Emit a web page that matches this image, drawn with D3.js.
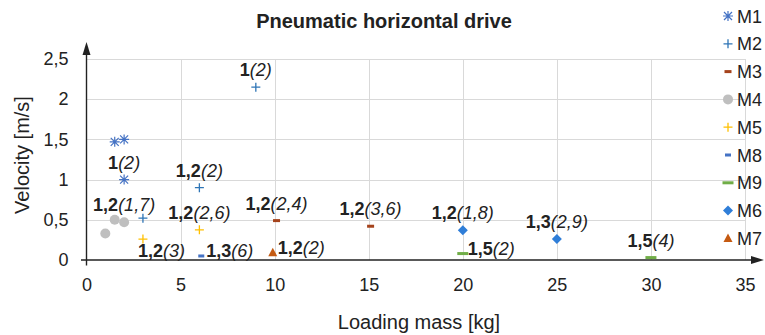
<!DOCTYPE html>
<html lang="en">
<head>
    <meta charset="UTF-8">
    <title>Pneumatic horizontal drive</title>
    <script src="https://d3js.org/d3.v7.min.js"></script>
    <style>
        body{margin: 0; background: #fff;}
        text{font-family: 'Liberation Sans', Arial, sans-serif; fill: #222;}
    </style>
</head>
<body>
    <div id="plot"></div>

    <script>
        function translate(x, y){
            return 'translate(' + x + ', ' + y + ')';
        }

        // data: [loading mass kg, velocity m/s]
        let seriesNames = ['M1', 'M2', 'M3', 'M4', 'M5', 'M8', 'M9', 'M6', 'M7'];
        let m1 = [[1.5, 1.47], [2, 1.5], [2, 1.0]];
        let m2 = [[9, 2.15], [6, 0.9], [3, 0.52]];
        let m3 = [[10.1, 0.49], [15.1, 0.42]];
        let m4 = [[1, 0.33], [1.5, 0.5], [2, 0.47]];
        let m5 = [[3, 0.26], [6, 0.375]];
        let m8 = [[6.1, 0.05]];
        let m9 = [[20, 0.08], [30, 0.03]];
        let m6 = [[20, 0.37], [25, 0.26]];
        let m7 = [[9.9, 0.09]];
        let seriesData = {M1: m1, M2: m2, M3: m3, M4: m4, M5: m5, M8: m8, M9: m9, M6: m6, M7: m7};

        // point labels: series, point index, bold part, italic part, placement
        let labels = [
            ['M2', 0, '1', '(2)', 'top'],
            ['M1', 2, '1', '(2)', 'top'],
            ['M2', 1, '1,2', '(2)', 'top'],
            ['M4', 2, '1,2', '(1,7)', 'top'],
            ['M5', 0, '1,2', '(3)', 'below'],
            ['M5', 1, '1,2', '(2,6)', 'top'],
            ['M8', 0, '1,3', '(6)', 'right'],
            ['M7', 0, '1,2', '(2)', 'right'],
            ['M3', 0, '1,2', '(2,4)', 'top'],
            ['M3', 1, '1,2', '(3,6)', 'top'],
            ['M6', 0, '1,2', '(1,8)', 'top'],
            ['M9', 0, '1,5', '(2)', 'right'],
            ['M6', 1, '1,3', '(2,9)', 'top'],
            ['M9', 1, '1,5', '(4)', 'top']
        ];

        let xTicks = [0, 5, 10, 15, 20, 25, 30, 35];
        let yTicks = [0, 0.5, 1, 1.5, 2, 2.5];

        let svgWidth = 765;
        let svgHeight = 335;
        let margin = {top: 59, right: 20, bottom: 75, left: 86.5};
        let plotRight = 745;

        let svg = d3.select('#plot')
                    .append('svg')
                        .attr('width', svgWidth)
                        .attr('height', svgHeight);

        let x = d3.scaleLinear().domain([0, 35]).range([margin.left, plotRight]);
        let y = d3.scaleLinear().domain([0, 2.5]).range([svgHeight - margin.bottom, margin.top]);
        let fmt = d => String(d).replace('.', ',');

        // grid
        let grid = svg.append('g').attr('stroke', '#d9d9d9').attr('stroke-width', 1);
        grid.selectAll('.hg')
            .data(yTicks.filter(d => d > 0))
            .join('line')
                .attr('x1', x(0)).attr('x2', x(35))
                .attr('y1', d => Math.round(y(d)) + 0.5).attr('y2', d => Math.round(y(d)) + 0.5);
        grid.selectAll('.vg')
            .data(xTicks.filter(d => d > 0))
            .join('line')
                .attr('y1', y(0)).attr('y2', y(2.5))
                .attr('x1', d => Math.round(x(d)) + 0.5).attr('x2', d => Math.round(x(d)) + 0.5);

        // axes (labels only, lines drawn with arrows below)
        let xAxis = d3.axisBottom(x).tickValues(xTicks).tickFormat(fmt).tickSize(0).tickPadding(18);
        let yAxis = d3.axisLeft(y).tickValues(yTicks).tickFormat(fmt).tickSize(0).tickPadding(18);

        let gx = svg.append('g').attr('transform', translate(0, y(0))).call(xAxis);
        let gy = svg.append('g').attr('transform', translate(x(0), 0)).call(yAxis);
        [gx, gy].forEach(g => {
            g.select('.domain').remove();
            g.selectAll('text').attr('fill', '#222').style('font-size', '18px')
                .style('font-family', "'Liberation Sans', Arial, sans-serif");
        });

        let x0 = x(0), y0 = y(0);
        svg.append('path')
            .attr('d', 'M' + (x0 - 5.5) + ',' + y0 + 'H' + 754)
            .attr('stroke', '#222').attr('stroke-width', 1.4);
        svg.append('path')
            .attr('d', 'M' + x0 + ',' + (y0 + 5.5) + 'V' + 52)
            .attr('stroke', '#222').attr('stroke-width', 1.4);
        svg.append('path')
            .attr('d', 'M764,' + y0 + 'L751,' + (y0 - 4) + 'L751,' + (y0 + 4) + 'Z')
            .attr('fill', '#222');
        svg.append('path')
            .attr('d', 'M' + x0 + ',42L' + (x0 - 4) + ',55L' + (x0 + 4) + ',55Z')
            .attr('fill', '#222');

        // marker shapes
        let styles = {
            M1: {color: '#4472c4', shape: 'star'},
            M2: {color: '#2e75b6', shape: 'plus'},
            M3: {color: '#a5431c', shape: 'dash'},
            M4: {color: '#bfbfbf', shape: 'circle'},
            M5: {color: '#ffc000', shape: 'plus'},
            M8: {color: '#4472c4', shape: 'smalldash'},
            M9: {color: '#70ad47', shape: 'longdash'},
            M6: {color: '#2f7ed8', shape: 'diamond'},
            M7: {color: '#c55a11', shape: 'triangle'}
        };

        function drawMarker(g, s){
            let st = styles[s];
            if(st.shape == 'star'){
                g.append('path').attr('d', 'M-4,-4L4,4M-4,4L4,-4M0,-5V5M-5,0H5')
                    .attr('stroke', st.color).attr('stroke-width', 1.2).attr('fill', 'none');
            } else if(st.shape == 'plus'){
                g.append('path').attr('d', 'M-4.5,0H4.5M0,-4.5V4.5')
                    .attr('stroke', st.color).attr('stroke-width', 1.3).attr('fill', 'none');
            } else if(st.shape == 'dash'){
                g.append('rect').attr('x', -3.5).attr('y', -1.5).attr('width', 7).attr('height', 3).attr('fill', st.color);
            } else if(st.shape == 'smalldash'){
                g.append('rect').attr('x', -3).attr('y', -1.5).attr('width', 6).attr('height', 3).attr('fill', st.color);
            } else if(st.shape == 'longdash'){
                g.append('rect').attr('x', -5.5).attr('y', -1.5).attr('width', 11).attr('height', 3).attr('fill', st.color);
            } else if(st.shape == 'circle'){
                g.append('circle').attr('r', 5).attr('fill', st.color);
            } else if(st.shape == 'diamond'){
                g.append('path').attr('d', 'M0,-5L5,0L0,5L-5,0Z').attr('fill', st.color);
            } else if(st.shape == 'triangle'){
                g.append('path').attr('d', 'M0,-5L4.5,3.5L-4.5,3.5Z').attr('fill', st.color);
            }
        }

        // points
        seriesNames.forEach(s => {
            svg.append('g')
                .selectAll('g')
                .data(seriesData[s])
                .join('g')
                    .attr('transform', d => translate(x(d[0]), y(d[1])))
                    .each(function(){ drawMarker(d3.select(this), s); });
        });

        // point labels
        labels.forEach(l => {
            let p = seriesData[l[0]][l[1]];
            let px = x(p[0]), py = y(p[1]);
            let t = svg.append('text').style('font-size', '18px');
            if(l[4] == 'top'){
                t.attr('x', px).attr('y', py - 11).attr('text-anchor', 'middle');
            } else if(l[4] == 'right'){
                t.attr('x', px + 5).attr('y', py + 1.5);
            } else {
                t.attr('x', px - 5).attr('y', py + 18);
            }
            t.append('tspan').attr('font-weight', 'bold').text(l[2]);
            t.append('tspan').attr('font-style', 'italic').text(l[3]);
        });

        // legend
        let legend = svg.append('g').attr('transform', translate(728, 16));
        seriesNames.forEach((s, i) => {
            let row = legend.append('g').attr('transform', translate(0, i * 27.8));
            drawMarker(row, s);
            row.append('text').attr('x', 9).attr('y', 6.5).style('font-size', '18px').text(s);
        });

        // titles
        svg.append('text')
            .attr('x', 384).attr('y', 28)
            .attr('text-anchor', 'middle')
            .attr('font-weight', 'bold')
            .style('font-size', '20px')
            .text('Pneumatic horizontal drive');

        svg.append('text')
            .attr('x', 419).attr('y', 329)
            .attr('text-anchor', 'middle')
            .style('font-size', '20px')
            .text('Loading mass [kg]');

        svg.append('text')
            .attr('transform', translate(29, 155) + ' rotate(-90)')
            .attr('text-anchor', 'middle')
            .style('font-size', '20px')
            .text('Velocity [m/s]');
    </script>
</body>
</html>
